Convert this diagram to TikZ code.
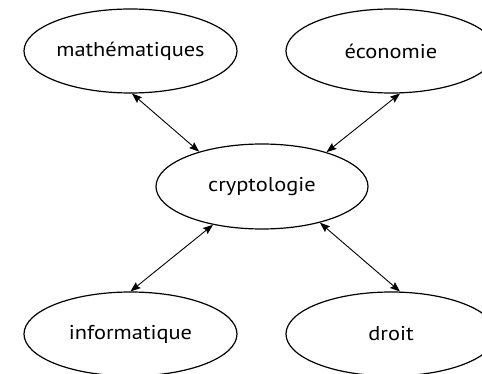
\documentclass[tikz,border=0pt]{standalone}
\usepackage{fontspec}
\setmainfont{PT Sans}
\usetikzlibrary{shapes.geometric,arrows.meta}
\newcommand{\wide}[1]{\scalebox{1.12}[1]{#1}}
\begin{document}
\begin{tikzpicture}[x=1pt,y=1pt,
  topic/.style={ellipse, draw, line width=1.2pt, minimum height=84pt, inner sep=0pt, font=\fontsize{20}{22}\selectfont},
  link/.style={line width=0.9pt, {Stealth[length=10pt,width=7.5pt,inset=1.5pt]}-{Stealth[length=10pt,width=7.5pt,inset=1.5pt]}}]
\clip (0,0) rectangle (482,373);
\useasboundingbox (0,0) rectangle (482,373);
\node[topic, minimum width=213pt] (mat) at (130.5,322) {\wide{mathématiques}};
\node[topic, minimum width=210pt] (eco) at (391,322) {\wide{économie}};
\node[topic, minimum width=212pt, minimum height=85pt] (cry) at (262,186.5) {\wide{cryptologie}};
\node[topic, minimum width=213pt] (inf) at (130.5,39) {\wide{informatique}};
\node[topic, minimum width=210pt] (dro) at (391,39) {\wide{droit}};
\draw[link] (mat.-88) -- (cry.151);
\draw[link] (eco.-78) -- (cry.28);
\draw[link] (inf.90) -- (cry.-142);
\draw[link] (dro.78) -- (cry.-32);
\end{tikzpicture}
\end{document}
